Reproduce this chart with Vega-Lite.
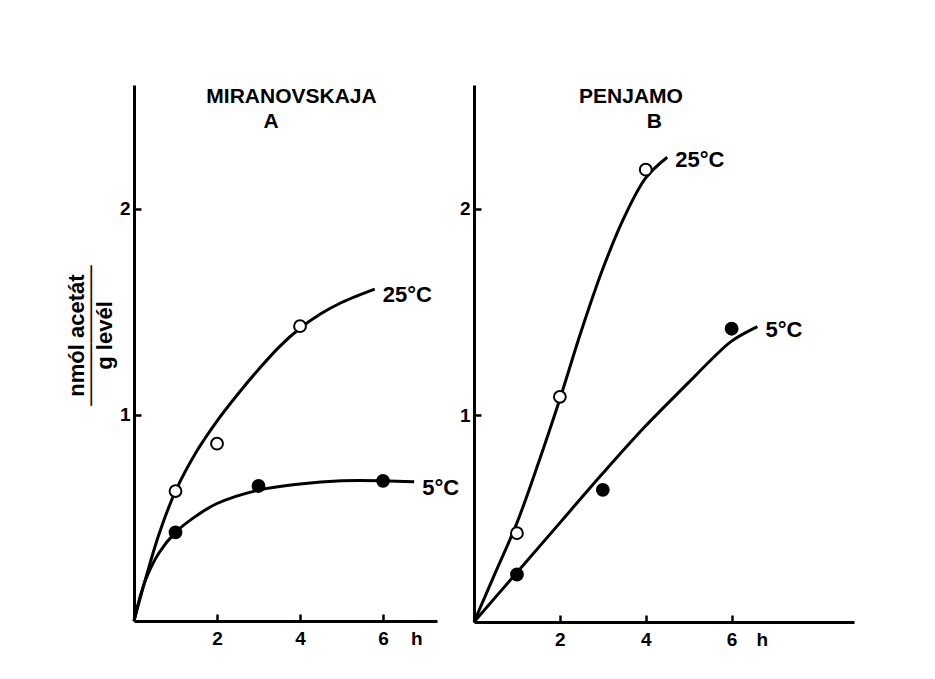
{
  "$schema": "https://vega.github.io/schema/vega-lite/v6.json",
  "background": "white",
  "padding": {"left": 65, "top": 85, "right": 5, "bottom": 5},
  "spacing": 37,
  "bounds": "flush",
  "datasets": {
    "curves": [
      {"panel": "A", "series": "25", "t": 0, "v": 0},
      {"panel": "A", "series": "25", "t": 0.3, "v": 0.22},
      {"panel": "A", "series": "25", "t": 0.6, "v": 0.42},
      {"panel": "A", "series": "25", "t": 1, "v": 0.63},
      {"panel": "A", "series": "25", "t": 1.5, "v": 0.82},
      {"panel": "A", "series": "25", "t": 2, "v": 0.97},
      {"panel": "A", "series": "25", "t": 2.5, "v": 1.1},
      {"panel": "A", "series": "25", "t": 3, "v": 1.22},
      {"panel": "A", "series": "25", "t": 3.5, "v": 1.33},
      {"panel": "A", "series": "25", "t": 4, "v": 1.42},
      {"panel": "A", "series": "25", "t": 4.5, "v": 1.49},
      {"panel": "A", "series": "25", "t": 5, "v": 1.545},
      {"panel": "A", "series": "25", "t": 5.8, "v": 1.61},
      {"panel": "A", "series": "5", "t": 0, "v": 0},
      {"panel": "A", "series": "5", "t": 0.15, "v": 0.12},
      {"panel": "A", "series": "5", "t": 0.3, "v": 0.21},
      {"panel": "A", "series": "5", "t": 0.6, "v": 0.33},
      {"panel": "A", "series": "5", "t": 1, "v": 0.43},
      {"panel": "A", "series": "5", "t": 1.5, "v": 0.51},
      {"panel": "A", "series": "5", "t": 2, "v": 0.57},
      {"panel": "A", "series": "5", "t": 3, "v": 0.635},
      {"panel": "A", "series": "5", "t": 4, "v": 0.665},
      {"panel": "A", "series": "5", "t": 5, "v": 0.68},
      {"panel": "A", "series": "5", "t": 6, "v": 0.68},
      {"panel": "A", "series": "5", "t": 6.75, "v": 0.675},
      {"panel": "B", "series": "25", "t": 0, "v": 0},
      {"panel": "B", "series": "25", "t": 0.5, "v": 0.24},
      {"panel": "B", "series": "25", "t": 1, "v": 0.48},
      {"panel": "B", "series": "25", "t": 1.5, "v": 0.77},
      {"panel": "B", "series": "25", "t": 2, "v": 1.08},
      {"panel": "B", "series": "25", "t": 2.5, "v": 1.41},
      {"panel": "B", "series": "25", "t": 3, "v": 1.71},
      {"panel": "B", "series": "25", "t": 3.5, "v": 1.96},
      {"panel": "B", "series": "25", "t": 4, "v": 2.15},
      {"panel": "B", "series": "25", "t": 4.5, "v": 2.25},
      {"panel": "B", "series": "5", "t": 0, "v": 0},
      {"panel": "B", "series": "5", "t": 1, "v": 0.24},
      {"panel": "B", "series": "5", "t": 2, "v": 0.48},
      {"panel": "B", "series": "5", "t": 3, "v": 0.72},
      {"panel": "B", "series": "5", "t": 4, "v": 0.95},
      {"panel": "B", "series": "5", "t": 5, "v": 1.16},
      {"panel": "B", "series": "5", "t": 5.5, "v": 1.265},
      {"panel": "B", "series": "5", "t": 6, "v": 1.36},
      {"panel": "B", "series": "5", "t": 6.6, "v": 1.43}
    ],
    "points": [
      {"panel": "A", "series": "25", "t": 1, "v": 0.63},
      {"panel": "A", "series": "25", "t": 2, "v": 0.86},
      {"panel": "A", "series": "25", "t": 4, "v": 1.43},
      {"panel": "A", "series": "5", "t": 1, "v": 0.43},
      {"panel": "A", "series": "5", "t": 3, "v": 0.655},
      {"panel": "A", "series": "5", "t": 6, "v": 0.68},
      {"panel": "B", "series": "25", "t": 1, "v": 0.43},
      {"panel": "B", "series": "25", "t": 2, "v": 1.09},
      {"panel": "B", "series": "25", "t": 4, "v": 2.19},
      {"panel": "B", "series": "5", "t": 1, "v": 0.23},
      {"panel": "B", "series": "5", "t": 3, "v": 0.64},
      {"panel": "B", "series": "5", "t": 6, "v": 1.42}
    ],
    "labels": [
      {"panel": "A", "series": "25", "t": 5.8, "v": 1.61, "label": "25°C"},
      {"panel": "A", "series": "5", "t": 6.75, "v": 0.675, "label": "5°C"},
      {"panel": "B", "series": "25", "t": 4.5, "v": 2.25, "label": "25°C"},
      {"panel": "B", "series": "5", "t": 6.6, "v": 1.43, "label": "5°C"}
    ]
  },
  "hconcat": [
    {
      "width": 303,
      "height": 536,
      "title": {
        "text": ["MIRANOVSKAJA", "A\u00a0\u00a0\u00a0\u00a0\u00a0\u00a0\u00a0\u200b"],
        "offset": -47,
        "dx": 6
      },
      "layer": [
        {
          "data": {"name": "curves"},
          "transform": [{"filter": "datum.panel == 'A'"}],
          "mark": {"type": "line", "interpolate": "catmull-rom", "strokeWidth": 3, "color": "black"},
          "encoding": {
            "x": {
              "field": "t", "type": "quantitative",
              "scale": {"domain": [0, 7.3], "nice": false},
              "axis": {
                "values": [2, 4, 6, 6.8],
                "labelExpr": "datum.value > 6.5 ? 'h' : datum.label",
                "tickOpacity": {"condition": {"test": "datum.value > 6.5", "value": 0}, "value": 1},
                "labelFontSize": 19,
                "labelFontWeight": "bold",
                "labelPadding": 15,
                "title": null
              }
            },
            "y": {
              "field": "v", "type": "quantitative",
              "scale": {"domain": [0, 2.6], "nice": false},
              "axis": {
                "values": [1, 2],
                "format": "d",
                "labelFontSize": 19,
                "labelFontWeight": "bold",
                "labelPadding": 11,
                "title": ["nmól acetát", "─────────", "g levél"],
                "titleFontSize": 22,
                "titleFontWeight": "bold",
                "titleAngle": -90,
                "titleX": -58,
                "titleY": 250,
                "titleAlign": "center",
                "titleBaseline": "middle",
                "titleLineHeight": 14
              }
            },
            "detail": {"field": "series"}
          }
        },
        {
          "data": {"name": "points"},
          "transform": [{"filter": "datum.panel == 'A'"}],
          "mark": {"type": "point", "filled": true, "stroke": "black", "strokeWidth": 2, "opacity": 1, "size": 140},
          "encoding": {
            "x": {"field": "t", "type": "quantitative"},
            "y": {"field": "v", "type": "quantitative"},
            "fill": {"field": "series", "type": "nominal", "scale": {"domain": ["25", "5"], "range": ["white", "black"]}, "legend": null}
          }
        },
        {
          "data": {"name": "labels"},
          "transform": [{"filter": "datum.panel == 'A'"}],
          "mark": {"type": "text", "align": "left", "baseline": "middle", "dx": 8, "dy": 6, "fontSize": 22, "fontWeight": "bold", "font": "Liberation Sans", "color": "black"},
          "encoding": {
            "x": {"field": "t", "type": "quantitative"},
            "y": {"field": "v", "type": "quantitative"},
            "text": {"field": "label"}
          }
        }
      ]
    },
    {
      "width": 380,
      "height": 537,
      "title": {
        "text": ["PENJAMO", "\u200b\u00a0\u00a0\u00a0\u00a0\u00a0\u00a0\u00a0\u00a0B"],
        "offset": -47,
        "dx": -33
      },
      "layer": [
        {
          "data": {"name": "curves"},
          "transform": [{"filter": "datum.panel == 'B'"}],
          "mark": {"type": "line", "interpolate": "catmull-rom", "strokeWidth": 3, "color": "black"},
          "encoding": {
            "x": {
              "field": "t", "type": "quantitative",
              "scale": {"domain": [0, 8.85], "nice": false},
              "axis": {
                "values": [2, 4, 6, 6.7],
                "labelExpr": "datum.value > 6.5 ? 'h' : datum.label",
                "tickOpacity": {"condition": {"test": "datum.value > 6.5", "value": 0}, "value": 1},
                "labelFontSize": 19,
                "labelFontWeight": "bold",
                "labelPadding": 15,
                "title": null
              }
            },
            "y": {
              "field": "v", "type": "quantitative",
              "scale": {"domain": [0, 2.6], "nice": false},
              "axis": {"values": [1, 2], "format": "d", "labelFontSize": 19, "labelFontWeight": "bold", "labelPadding": 11, "title": null}
            },
            "detail": {"field": "series"}
          }
        },
        {
          "data": {"name": "points"},
          "transform": [{"filter": "datum.panel == 'B'"}],
          "mark": {"type": "point", "filled": true, "stroke": "black", "strokeWidth": 2, "opacity": 1, "size": 140},
          "encoding": {
            "x": {"field": "t", "type": "quantitative"},
            "y": {"field": "v", "type": "quantitative"},
            "fill": {"field": "series", "type": "nominal", "scale": {"domain": ["25", "5"], "range": ["white", "black"]}, "legend": null}
          }
        },
        {
          "data": {"name": "labels"},
          "transform": [{"filter": "datum.panel == 'B'"}],
          "mark": {"type": "text", "align": "left", "baseline": "middle", "dx": 8, "dy": 3, "fontSize": 22, "fontWeight": "bold", "font": "Liberation Sans", "color": "black"},
          "encoding": {
            "x": {"field": "t", "type": "quantitative"},
            "y": {"field": "v", "type": "quantitative"},
            "text": {"field": "label"}
          }
        }
      ]
    }
  ],
  "config": {
    "view": {"stroke": null},
    "font": "Liberation Sans",
    "title": {"fontSize": 21, "fontWeight": "bold", "font": "Liberation Sans", "color": "black", "lineHeight": 25, "anchor": "middle"},
    "axis": {
      "grid": false,
      "domainColor": "black",
      "domainWidth": 3,
      "tickColor": "black",
      "tickWidth": 2.5,
      "tickSize": -7,
      "labelFont": "Liberation Sans",
      "labelColor": "black",
      "titleFont": "Liberation Sans",
      "titleColor": "black"
    }
  }
}
